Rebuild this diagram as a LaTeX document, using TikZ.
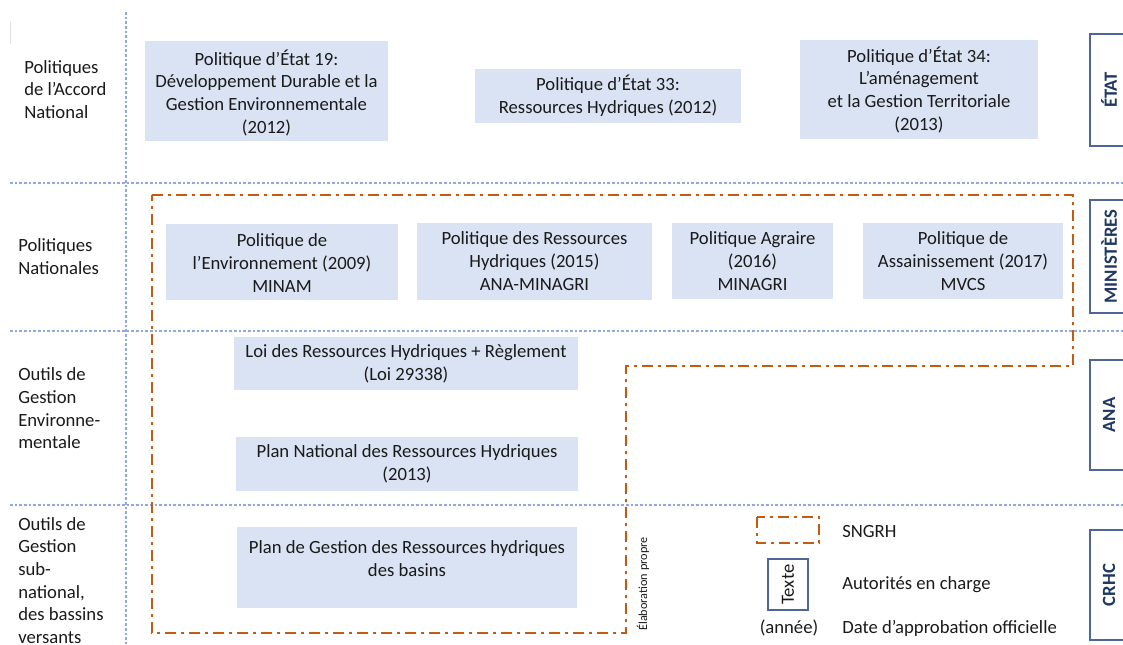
\documentclass[tikz,border=0pt]{standalone}
\usepackage{fontspec}
\setmainfont{Carlito}
\usetikzlibrary{fit}
\definecolor{boxblue}{HTML}{DAE3F3}
\definecolor{gridblue}{HTML}{8FAADC}
\definecolor{sngrhorange}{HTML}{C55A11}
\definecolor{sideborder}{HTML}{4E6596}
\definecolor{sidetext}{HTML}{1F3864}
\definecolor{txtgray}{HTML}{1A1A1A}
\begin{document}
\begin{tikzpicture}[x=0.75pt,y=-0.75pt,
  txt/.style={font=\fontsize{14}{17}\selectfont, text=txtgray, inner sep=0pt},
  box/.style={fill=boxblue, inner sep=0pt},
  boxtext/.style={txt, align=center},
  grid/.style={gridblue, line width=0.9pt, dash pattern=on 2pt off 1.5pt},
  sngrh/.style={sngrhorange, line width=1.9pt, dash pattern=on 8pt off 4pt on 2pt off 4pt},
  sidebox/.style={draw=sideborder, line width=0.8pt, fill=white, inner sep=0pt},
  sidelabel/.style={font=\fontsize{14}{17}\selectfont\bfseries, text=sidetext, rotate=90, inner sep=0pt},
  rowlabel/.style={txt, anchor=west, align=left}]
\clip (0,0) rectangle (1123,644);
\useasboundingbox (0,0) rectangle (1123,644);

% grid lines
\coordinate (v1) at (126,12); \coordinate (v2) at (126,644);
\coordinate (h1a) at (10,183); \coordinate (h1b) at (1123,183);
\coordinate (h2a) at (10,331); \coordinate (h2b) at (1123,331);
\coordinate (h3a) at (10,505); \coordinate (h3b) at (1123,505);
\draw[grid] (v1) -- (v2);
\draw[grid] (h1a) -- (h1b);
\draw[grid] (h2a) -- (h2b);
\draw[grid] (h3a) -- (h3b);
\coordinate (m1) at (10,22); \coordinate (m2) at (10,44);
\draw[black!12, line width=0.6pt] (m1) -- (m2);

% row labels
\node[rowlabel] (r1) at (24,89.5) {Politiques\\de l’Accord\\National};
\node[rowlabel] (r2) at (18,256.5) {Politiques\\Nationales};
\node[rowlabel] (r3) at (18,408.5) {Outils de\\Gestion\\Environne-\\mentale};
\node[rowlabel] (r4) at (18,580.5) {Outils de\\Gestion\\sub-\\national,\\des bassins\\versants};

% boxes
\node[box, fit={(145,41)(388,141)}] (b1) {};
\node[boxtext] (t1) at (266.5,92.5) {Politique d’État 19:\\Développement Durable et la\\Gestion Environnementale\\(2012)};
\node[box, fit={(475,69)(741,123)}] (b2) {};
\node[boxtext] (t2) at (b2.center) {Politique d’État 33:\\Ressources Hydriques (2012)};
\node[box, fit={(800,40)(1038,139)}] (b3) {};
\node[boxtext] (t3) at (b3.center) {Politique d’État 34:\\L’aménagement\\et la Gestion Territoriale\\(2013)};
\node[box, fit={(166,224)(398,300)}] (b4) {};
\node[boxtext] (t4) at (282,263) {Politique de\\l’Environnement (2009)\\MINAM};
\node[box, fit={(417,223)(652,300)}] (b5) {};
\node[boxtext] (t5) at (534.5,261) {Politique des Ressources\\Hydriques (2015)\\ANA-MINAGRI};
\node[box, fit={(672,223)(833,299)}] (b6) {};
\node[boxtext] (t6) at (752.5,261) {Politique Agraire\\(2016)\\MINAGRI};
\node[box, fit={(863,223)(1063,299)}] (b7) {};
\node[boxtext] (t7) at (963,261) {Politique de\\Assainissement (2017)\\MVCS};
\node[box, fit={(234,337)(578,390)}] (b8) {};
\node[boxtext] (t8) at (b8.center) {Loi des Ressources Hydriques + Règlement\\(Loi 29338)};
\node[box, fit={(236,437)(578,491)}] (b9) {};
\node[boxtext] (t9) at (b9.center) {Plan National des Ressources Hydriques\\(2013)};
\node[box, fit={(237,527)(577,608)}] (b10) {};
\node[boxtext] (t10) at (407,558.5) {Plan de Gestion des Ressources hydriques\\des basins};

% SNGRH outline
\coordinate (s1) at (152,195);
\coordinate (s2) at (1073,195);
\coordinate (s3) at (1073,366);
\coordinate (s4) at (626,366);
\coordinate (s5) at (626,633);
\coordinate (s6) at (152,633);
\draw[sngrh] (s1) -- (s2) -- (s3) -- (s4) -- (s5) -- (s6) -- cycle;

% side boxes
\node[sidebox, fit={(1090,34)(1130,146)}] (sb1) {};
\node[sidelabel] (sl1) at (1109,90) {ÉTAT};
\node[sidebox, fit={(1090,200)(1130,313)}] (sb2) {};
\node[sidelabel] (sl2) at (1109,256.5) {MINISTÈRES};
\node[sidebox, fit={(1090,360)(1130,470)}] (sb3) {};
\node[sidelabel] (sl3) at (1109,415) {ANA};
\node[sidebox, fit={(1090,530)(1130,640)}] (sb4) {};
\node[sidelabel] (sl4) at (1109,585) {CRHC};

% source note
\node[txt, font=\fontsize{9.2}{11}\selectfont, rotate=90] (src) at (643,584) {Élaboration propre};

% legend
\coordinate (l1) at (757,517); \coordinate (l2) at (819,543);
\draw[sngrh] (l1) rectangle (l2);
\node[txt, anchor=west] (lt1) at (842,531) {SNGRH};
\node[sidebox, fit={(768,559)(808,610)}] (lb) {};
\node[txt, rotate=90] (lbt) at (lb.center) {Texte};
\node[txt, anchor=west] (lt2) at (842,585) {Autorités en charge};
\node[txt] (lt3) at (789,628) {(année)};
\node[txt, anchor=west] (lt4) at (842,628) {Date d’approbation officielle};
\end{tikzpicture}
\end{document}
